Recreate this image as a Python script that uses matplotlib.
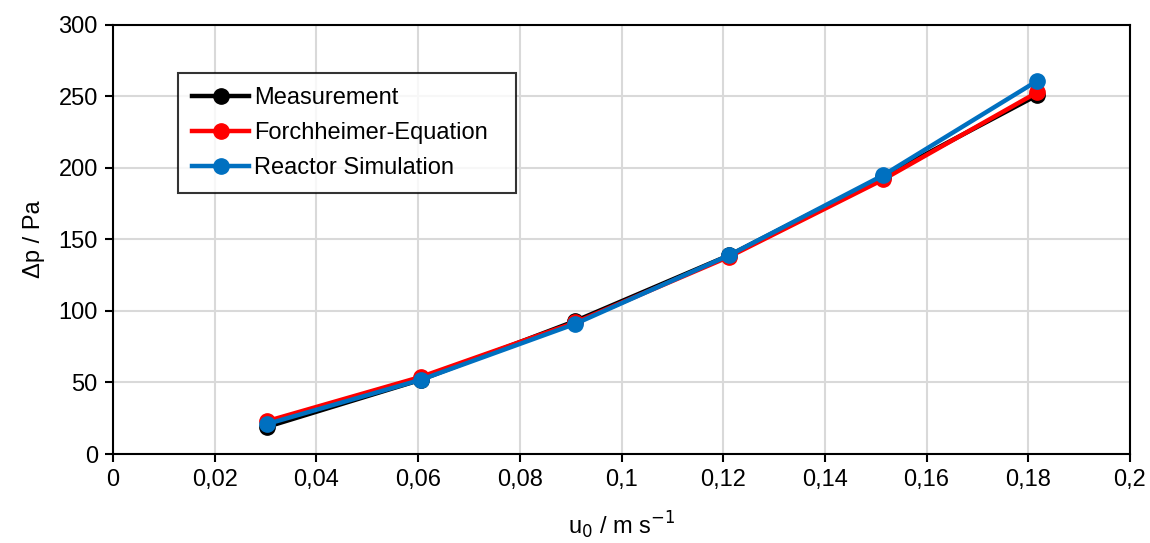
import matplotlib.pyplot as plt
from matplotlib.ticker import FuncFormatter, MultipleLocator

plt.rcParams['font.family'] = ['Liberation Sans', 'DejaVu Sans']

# data
u0 = [0.0303, 0.0606, 0.0909, 0.1212, 0.1515, 0.1818]
measurement = [19, 52, 93, 139, 194, 251]
forchheimer = [23, 54, 92, 138, 192, 253]
reactor_sim = [21, 52, 91, 139, 195, 261]

fig = plt.figure(figsize=(11.5, 5.43), dpi=100)
ax = fig.add_axes([0.0983, 0.1639, 0.8843, 0.7901])

ax.plot(u0, measurement, color='black', marker='o', lw=3.2, ms=11, label='Measurement')
ax.plot(u0, forchheimer, color='#FF0000', marker='o', lw=3.2, ms=11, label='Forchheimer-Equation')
ax.plot(u0, reactor_sim, color='#0070C0', marker='o', lw=3.2, ms=11, label='Reactor Simulation')

ax.set_xlim(0, 0.2)
ax.set_ylim(0, 300)
ax.xaxis.set_major_locator(MultipleLocator(0.02))
ax.yaxis.set_major_locator(MultipleLocator(50))
ax.xaxis.set_major_formatter(FuncFormatter(lambda v, p: ('%g' % round(v, 2)).replace('.', ',')))

ax.grid(True, color='#D9D9D9', lw=1.5)
ax.set_axisbelow(True)
for s in ax.spines.values():
    s.set_color('black')
    s.set_linewidth(1.5)
ax.tick_params(axis='both', direction='out', length=6, width=1.5, labelsize=17, colors='black', pad=5)

ax.set_xlabel('u$_0$ / m s$^{-1}$', fontsize=17, labelpad=13)
ax.set_ylabel('Δp / Pa', fontsize=17, labelpad=10)

leg = ax.legend(loc='upper left', bbox_to_anchor=(0.064, 0.888, 0.332, 0), mode='expand',
                fontsize=17, frameon=True, fancybox=False, edgecolor='black',
                handlelength=2.4, handletextpad=0.2, borderpad=0.6, labelspacing=0.55,
                borderaxespad=0)
leg.get_frame().set_linewidth(1.5)

plt.savefig('out.png', dpi=100)
